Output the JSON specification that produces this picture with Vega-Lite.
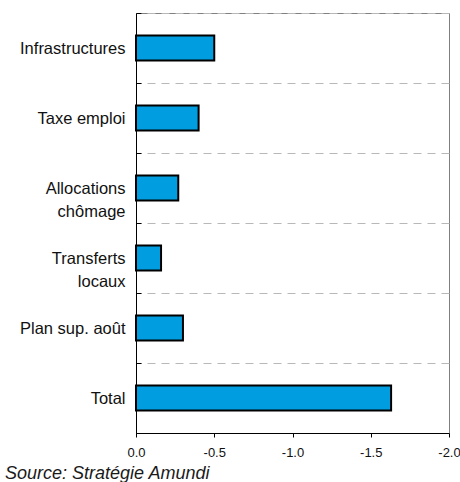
{
  "$schema": "https://vega.github.io/schema/vega-lite/v6.json",
  "width": 313,
  "height": 420,
  "autosize": {"type": "none"},
  "padding": {"left": 136, "top": 13, "right": 11, "bottom": 49},
  "background": "white",
  "config": {
    "view": {"stroke": "#808080", "strokeWidth": 1},
    "font": "Liberation Sans"
  },
  "title": {
    "text": "Source: Stratégie  Amundi",
    "orient": "bottom",
    "anchor": "start",
    "frame": "group",
    "dx": -131,
    "offset": 6,
    "font": "Liberation Sans",
    "fontSize": 18,
    "fontStyle": "italic",
    "fontWeight": "normal",
    "color": "#1a1a1a"
  },
  "data": {
    "values": [
      {"poste": "Infrastructures", "impact": -0.50},
      {"poste": "Taxe emploi", "impact": -0.40},
      {"poste": "Allocations|chômage", "impact": -0.27},
      {"poste": "Transferts|locaux", "impact": -0.16},
      {"poste": "Plan sup. août", "impact": -0.30},
      {"poste": "Total", "impact": -1.63}
    ]
  },
  "mark": {"type": "bar", "color": "#009EE0", "stroke": "black", "strokeWidth": 2, "size": 25},
  "encoding": {
    "y": {
      "field": "poste",
      "type": "nominal",
      "sort": null,
      "scale": {"paddingInner": 0, "paddingOuter": 0},
      "axis": {
        "title": null,
        "tickBand": "extent",
        "grid": true,
        "gridColor": "#b8b8b8",
        "gridDash": [8, 6],
        "gridWidth": 1,
        "ticks": true,
        "tickColor": "black",
        "tickSize": -5,
        "domainColor": "black",
        "domainWidth": 1,
        "labelExpr": "split(datum.label, '|')",
        "labelFont": "Liberation Sans",
        "labelFontSize": 16.5,
        "labelColor": "#111111",
        "labelPadding": 16,
        "labelLineHeight": 23,
        "labelLimit": 200
      }
    },
    "x": {
      "field": "impact",
      "type": "quantitative",
      "scale": {"domain": [-2, 0], "reverse": true, "nice": false},
      "axis": {
        "title": null,
        "values": [0, -0.5, -1, -1.5, -2],
        "labelExpr": "datum.value == 0 ? '0.0' : '-' + format(abs(datum.value), '.1f')",
        "grid": false,
        "domainColor": "black",
        "tickColor": "black",
        "tickSize": 4,
        "labelPadding": 9,
        "labelFont": "Liberation Sans",
        "labelFontSize": 13,
        "labelColor": "#111111",
        "labelFlush": false
      }
    }
  }
}
